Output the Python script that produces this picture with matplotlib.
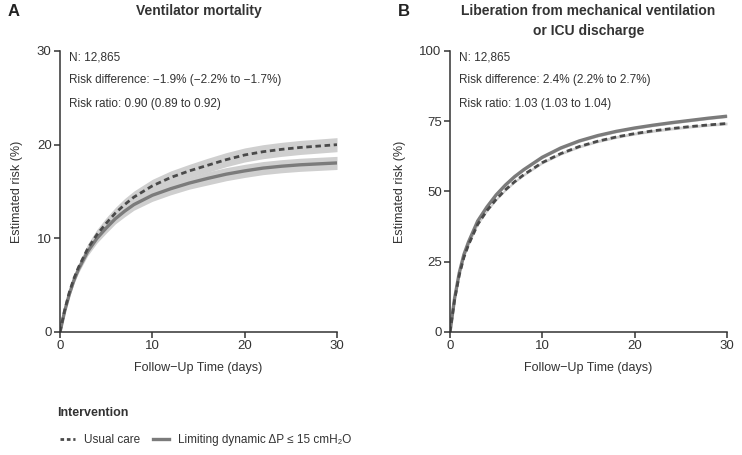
import matplotlib
matplotlib.use("Agg")
import matplotlib.pyplot as plt
from matplotlib.lines import Line2D

plt.rcParams["font.family"] = ["Liberation Sans", "DejaVu Sans"]

days = [0, 0.5, 1, 1.5, 2, 3, 4, 5, 6, 7, 8, 10, 12, 14, 16, 18, 20, 22, 24, 26, 28, 30]

# panel A: ventilator mortality (%)
mort_usual = [0, 2.3, 4.2, 5.7, 6.9, 8.9, 10.4, 11.6, 12.7, 13.6, 14.4, 15.6, 16.5,
              17.2, 17.8, 18.4, 18.9, 19.25, 19.5, 19.7, 19.85, 20.0]
mort_usual_ci = [0, 0.2, 0.3, 0.35, 0.4, 0.5, 0.55, 0.6, 0.6, 0.65, 0.65, 0.7, 0.7,
                 0.7, 0.75, 0.75, 0.75, 0.75, 0.75, 0.75, 0.75, 0.75]
mort_limit = [0, 2.2, 4.0, 5.5, 6.7, 8.6, 10.0, 11.1, 12.1, 12.9, 13.6, 14.6, 15.3,
              15.9, 16.4, 16.85, 17.2, 17.5, 17.7, 17.85, 17.95, 18.05]
mort_limit_ci = [0, 0.2, 0.3, 0.35, 0.4, 0.45, 0.5, 0.55, 0.55, 0.6, 0.6, 0.65, 0.65,
                 0.65, 0.7, 0.7, 0.7, 0.7, 0.7, 0.7, 0.7, 0.7]

# panel B: liberation from ventilation or ICU discharge (%)
lib_usual = [0, 11.5, 20.2, 26.5, 31.0, 38.3, 43.2, 47.2, 50.6, 53.5, 56.0, 60.3, 63.5,
             66.0, 67.9, 69.4, 70.6, 71.6, 72.4, 73.1, 73.7, 74.2]
lib_limit = [0, 12.0, 21.0, 27.5, 32.0, 39.5, 44.5, 48.8, 52.3, 55.3, 57.8, 62.2, 65.5,
             68.0, 69.9, 71.4, 72.6, 73.6, 74.5, 75.3, 76.1, 76.8]
lib_ci = [0, 0.3, 0.4, 0.4, 0.45, 0.45, 0.5, 0.5, 0.5, 0.5, 0.5, 0.5, 0.5,
          0.5, 0.5, 0.5, 0.5, 0.5, 0.5, 0.5, 0.5, 0.5]

panels = [
    dict(tag="A", title="Ventilator mortality", ylim=30, yticks=[0, 10, 20, 30],
         usual=mort_usual, usual_ci=mort_usual_ci, limit=mort_limit, limit_ci=mort_limit_ci,
         notes=["N: 12,865", "Risk difference: \u22121.9% (\u22122.2% to \u22121.7%)",
                "Risk ratio: 0.90 (0.89 to 0.92)"]),
    dict(tag="B", title="Liberation from mechanical ventilation\nor ICU discharge",
         ylim=100, yticks=[0, 25, 50, 75, 100],
         usual=lib_usual, usual_ci=lib_ci, limit=lib_limit, limit_ci=lib_ci,
         notes=["N: 12,865", "Risk difference: 2.4% (2.2% to 2.7%)",
                "Risk ratio: 1.03 (1.03 to 1.04)"]),
]

W, H = 742, 455
fig = plt.figure(figsize=(W / 100, H / 100), dpi=100)
axes_px = [(60, 337), (450, 727)]
top_px, bottom_px = 51, 332

dark = "#4a4a4a"
solid_col = "#7b7b7b"
band_col = "#cfcfcf"

for p, (x0, x1) in zip(panels, axes_px):
    ax = fig.add_axes([x0 / W, 1 - bottom_px / H, (x1 - x0) / W, (bottom_px - top_px) / H])
    lo = [v - c for v, c in zip(p["usual"], p["usual_ci"])]
    hi = [v + c for v, c in zip(p["usual"], p["usual_ci"])]
    ax.fill_between(days, lo, hi, color=band_col, lw=0)
    lo = [v - c for v, c in zip(p["limit"], p["limit_ci"])]
    hi = [v + c for v, c in zip(p["limit"], p["limit_ci"])]
    ax.fill_between(days, lo, hi, color=band_col, lw=0)
    ax.plot(days, p["limit"], color=solid_col, lw=2.4, solid_capstyle="butt")
    ax.plot(days, p["usual"], color=dark, lw=2.0, linestyle=(0, (2.0, 1.3)))

    ax.set_xlim(0, 30)
    ax.set_ylim(0, p["ylim"])
    ax.set_xticks([0, 10, 20, 30])
    ax.set_yticks(p["yticks"])
    for s in ["top", "right"]:
        ax.spines[s].set_visible(False)
    for s in ["left", "bottom"]:
        ax.spines[s].set_color("#333333")
        ax.spines[s].set_linewidth(1.1)
    ax.tick_params(colors="#333333", labelsize=9.5, length=4, width=1.1, pad=2)
    ax.set_xlabel("Follow\u2212Up Time (days)", fontsize=9, color="#333333", labelpad=7)
    ax.set_ylabel("Estimated risk (%)", fontsize=9, color="#333333", labelpad=10)

    for i, note in enumerate(p["notes"]):
        fig.text((x0 + 9) / W, 1 - (57 + 23.5 * i) / H, note, fontsize=8.5,
                 color="#333333", va="center", ha="left")

    cx = (x0 + x1) / 2 / W
    fig.text(cx, 1 - 4 / H, p["title"], fontsize=10, fontweight="bold", color="#333333",
             ha="center", va="top", linespacing=1.55)
    fig.text((x0 - 52) / W, 1 - 4 / H, p["tag"], fontsize=12, fontweight="bold",
             color="#222222", ha="left", va="top")

fig.text(57 / W, 1 - 413 / H, "Intervention", fontsize=9, fontweight="bold",
         color="#333333", va="center", ha="left")
handles = [
    Line2D([], [], color=dark, lw=2.0, linestyle=(0, (1.3, 1.0))),
    Line2D([], [], color=solid_col, lw=2.4),
]
labels = ["Usual care", "Limiting dynamic \u0394P \u2264 15 cmH\u2082O"]
leg = fig.legend(handles, labels, loc="center left", bbox_to_anchor=(60 / W, 1 - 440 / H),
                 ncol=2, frameon=False, fontsize=8.5,
                 handlelength=1.3, handletextpad=0.75, columnspacing=1.1,
                 borderaxespad=0, borderpad=0)
for t in leg.get_texts():
    t.set_color("#333333")

fig.savefig("out.png", dpi=100)
